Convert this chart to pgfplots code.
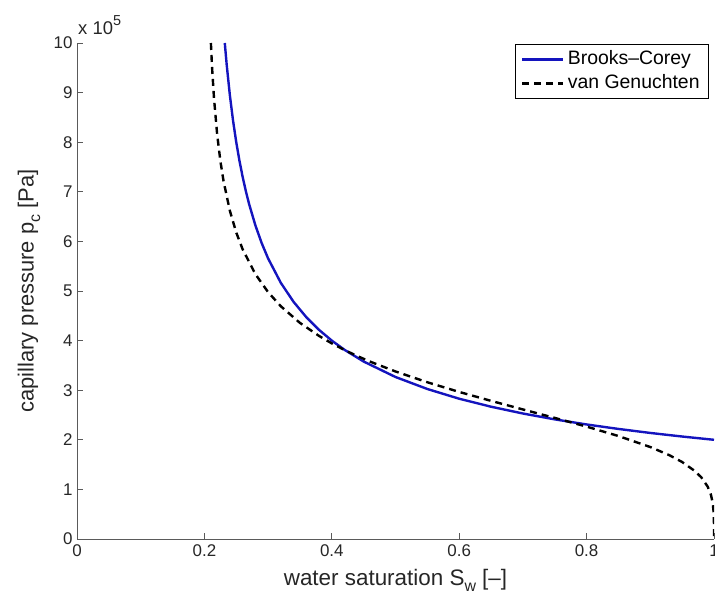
\documentclass[border=0pt]{standalone}
\usepackage{fontspec}
\setmainfont{Liberation Sans}
\usepackage{pgfplots}
\pgfplotsset{compat=1.18}
\usetikzlibrary{calc}
\definecolor{bcblue}{RGB}{20,20,190}
\definecolor{axgray}{RGB}{90,90,90}
\begin{document}
\begin{tikzpicture}
\begin{axis}[
  scale only axis,
  width=637bp, height=496bp,
  xmin=0, xmax=1, ymin=0, ymax=10,
  axis x line*=bottom, axis y line*=left,
  axis line style={axgray, line width=1bp, -},
  xtick={0,0.2,0.4,0.6,0.8,1},
  xticklabels={0,0.2,0.4,0.6,0.8,1},
  ytick={0,1,2,3,4,5,6,7,8,9,10},
  tick align=inside,
  major tick length=6bp,
  tick style={axgray, line width=0.8bp},
  /pgf/number format/assume math mode=true,
  tick label style={font=\fontsize{17}{17}\selectfont, text=black!85},
  xticklabel style={yshift=-2bp},
  yticklabel style={xshift=-1bp},
  legend style={at={(axis cs:0.9922,9.98)}, anchor=north east, draw=black, line width=0.8bp,
    font=\fontsize{19.5}{20}\selectfont, inner xsep=5.5bp, inner ysep=3bp,
    row sep=0bp, column sep=0bp, cells={anchor=west},
    nodes={inner xsep=3.5bp, inner ysep=3bp, text height=14bp, text depth=4bp}},
  legend image code/.code={\draw[#1] (0bp,0bp) -- (41bp,0bp);},
]
\addplot[bcblue, line width=2.4bp] coordinates {
(0.232,10) (0.235,9.562) (0.24,8.944) (0.245,8.433) (0.25,8.0) (0.255,7.628)
(0.26,7.303) (0.265,7.017) (0.27,6.761) (0.28,6.325) (0.29,5.963) (0.30,5.657)
(0.32,5.164) (0.34,4.781) (0.36,4.472) (0.38,4.216) (0.40,4.0) (0.42,3.814)
(0.45,3.578) (0.50,3.266) (0.55,3.024) (0.60,2.828) (0.65,2.667) (0.70,2.530)
(0.75,2.412) (0.80,2.309) (0.85,2.219) (0.90,2.138) (0.95,2.066) (1.00,2.0)
};
\addlegendentry{Brooks--Corey}
\addplot[black, line width=2.4bp, dash pattern=on 7bp off 5bp] coordinates {
(0.2102,10) (0.212,9.512) (0.215,8.897) (0.22,8.159) (0.225,7.629) (0.23,7.220)
(0.24,6.616) (0.25,6.179) (0.26,5.842) (0.28,5.341) (0.30,4.977) (0.32,4.692)
(0.35,4.357) (0.38,4.094) (0.40,3.944) (0.42,3.810) (0.44,3.689) (0.46,3.577)
(0.50,3.378) (0.55,3.160) (0.60,2.965) (0.65,2.785) (0.70,2.612) (0.75,2.441)
(0.80,2.266) (0.85,2.076) (0.90,1.854) (0.93,1.689) (0.95,1.552) (0.97,1.370)
(0.98,1.244) (0.99,1.058) (0.995,0.900) (0.998,0.728) (0.9995,0.529)
(0.99995,0.312) (1.0,0)
};
\addlegendentry{van Genuchten}
\coordinate (ll) at (rel axis cs:0,0);
\coordinate (ur) at (rel axis cs:1,1);
\end{axis}
\node[anchor=base west, font=\fontsize{18.5}{18.5}\selectfont, inner sep=0pt, text=black!85]
  at ($(ll|-ur)+(1bp,8bp)$) {x 10\raisebox{0.5em}{\fontsize{14.5}{14.5}\selectfont 5}};
\node[anchor=base, font=\fontsize{22.5}{22.5}\selectfont, inner sep=0pt, text=black!85]
  at ($($(ll)!0.5!(ll-|ur)$)+(0bp,-46bp)$) {water saturation S\raisebox{-0.3em}{\fontsize{16}{16}\selectfont w} [--]};
\node[anchor=center, rotate=90, font=\fontsize{22}{22}\selectfont, inner sep=0pt, text=black!85]
  at ($($(ll)!0.5!(ll|-ur)$)+(-48bp,0bp)$) {capillary pressure p\raisebox{-0.3em}{\fontsize{16}{16}\selectfont c} [Pa]};
\pgfresetboundingbox
\path ($(ll)+(-77bp,-58bp)$) rectangle ($(ur)+(1bp,43bp)$);
\end{tikzpicture}
\end{document}
